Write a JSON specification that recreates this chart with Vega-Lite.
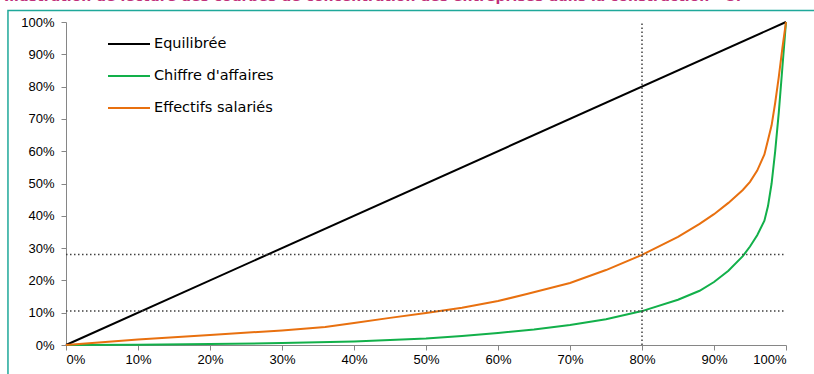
{
  "$schema": "https://vega.github.io/schema/vega-lite/v6.json",
  "width": 720,
  "height": 323,
  "autosize": {"type": "none"},
  "padding": {"left": 66, "top": 22, "right": 28, "bottom": 29},
  "background": "white",
  "title": {
    "text": "Illustration de lecture des courbes de concentration des entreprises dans la construction     –   5.",
    "anchor": "start",
    "frame": "group",
    "font": "DejaVu Sans",
    "fontSize": 14,
    "fontWeight": "bold",
    "color": "#c0307a",
    "dx": -62,
    "dy": -6,
    "offset": 0
  },
  "config": {
    "view": {"stroke": null},
    "font": "Liberation Sans",
    "axis": {
      "grid": false,
      "domainColor": "#868686",
      "tickColor": "#868686",
      "tickSize": 5,
      "labelFont": "Liberation Sans",
      "labelFontSize": 13,
      "labelColor": "#000000",
      "labelPadding": 3,
      "title": null
    },
    "axisY": {"labelPadding": 7}
  },
  "datasets": {
    "curves": [
      {"serie": "Equilibrée", "x": 0, "y": 0},
      {"serie": "Equilibrée", "x": 1, "y": 1},
      {"serie": "Chiffre d'affaires", "x": 0, "y": 0},
      {"serie": "Chiffre d'affaires", "x": 0.1, "y": 0.001},
      {"serie": "Chiffre d'affaires", "x": 0.2, "y": 0.003},
      {"serie": "Chiffre d'affaires", "x": 0.3, "y": 0.006},
      {"serie": "Chiffre d'affaires", "x": 0.4, "y": 0.011},
      {"serie": "Chiffre d'affaires", "x": 0.5, "y": 0.02},
      {"serie": "Chiffre d'affaires", "x": 0.55, "y": 0.028},
      {"serie": "Chiffre d'affaires", "x": 0.6, "y": 0.037},
      {"serie": "Chiffre d'affaires", "x": 0.65, "y": 0.048},
      {"serie": "Chiffre d'affaires", "x": 0.7, "y": 0.062},
      {"serie": "Chiffre d'affaires", "x": 0.75, "y": 0.08},
      {"serie": "Chiffre d'affaires", "x": 0.8, "y": 0.105},
      {"serie": "Chiffre d'affaires", "x": 0.85, "y": 0.14},
      {"serie": "Chiffre d'affaires", "x": 0.88, "y": 0.168},
      {"serie": "Chiffre d'affaires", "x": 0.9, "y": 0.195},
      {"serie": "Chiffre d'affaires", "x": 0.92, "y": 0.23},
      {"serie": "Chiffre d'affaires", "x": 0.94, "y": 0.275},
      {"serie": "Chiffre d'affaires", "x": 0.95, "y": 0.305},
      {"serie": "Chiffre d'affaires", "x": 0.96, "y": 0.34},
      {"serie": "Chiffre d'affaires", "x": 0.97, "y": 0.385},
      {"serie": "Chiffre d'affaires", "x": 0.975, "y": 0.43},
      {"serie": "Chiffre d'affaires", "x": 0.98, "y": 0.5},
      {"serie": "Chiffre d'affaires", "x": 0.985, "y": 0.6},
      {"serie": "Chiffre d'affaires", "x": 0.99, "y": 0.72},
      {"serie": "Chiffre d'affaires", "x": 0.995, "y": 0.86},
      {"serie": "Chiffre d'affaires", "x": 1, "y": 1},
      {"serie": "Effectifs salariés", "x": 0, "y": 0},
      {"serie": "Effectifs salariés", "x": 0.1, "y": 0.017},
      {"serie": "Effectifs salariés", "x": 0.2, "y": 0.031},
      {"serie": "Effectifs salariés", "x": 0.3, "y": 0.045},
      {"serie": "Effectifs salariés", "x": 0.36, "y": 0.056},
      {"serie": "Effectifs salariés", "x": 0.4, "y": 0.068},
      {"serie": "Effectifs salariés", "x": 0.45, "y": 0.084},
      {"serie": "Effectifs salariés", "x": 0.5, "y": 0.099},
      {"serie": "Effectifs salariés", "x": 0.55, "y": 0.115},
      {"serie": "Effectifs salariés", "x": 0.6, "y": 0.136},
      {"serie": "Effectifs salariés", "x": 0.64, "y": 0.158},
      {"serie": "Effectifs salariés", "x": 0.7, "y": 0.192},
      {"serie": "Effectifs salariés", "x": 0.75, "y": 0.232},
      {"serie": "Effectifs salariés", "x": 0.8, "y": 0.279},
      {"serie": "Effectifs salariés", "x": 0.85, "y": 0.335},
      {"serie": "Effectifs salariés", "x": 0.88, "y": 0.375},
      {"serie": "Effectifs salariés", "x": 0.9, "y": 0.405},
      {"serie": "Effectifs salariés", "x": 0.92, "y": 0.44},
      {"serie": "Effectifs salariés", "x": 0.94, "y": 0.48},
      {"serie": "Effectifs salariés", "x": 0.95, "y": 0.505},
      {"serie": "Effectifs salariés", "x": 0.96, "y": 0.54},
      {"serie": "Effectifs salariés", "x": 0.97, "y": 0.59},
      {"serie": "Effectifs salariés", "x": 0.975, "y": 0.635},
      {"serie": "Effectifs salariés", "x": 0.98, "y": 0.68},
      {"serie": "Effectifs salariés", "x": 0.985, "y": 0.75},
      {"serie": "Effectifs salariés", "x": 0.99, "y": 0.83},
      {"serie": "Effectifs salariés", "x": 0.995, "y": 0.92},
      {"serie": "Effectifs salariés", "x": 1, "y": 1}
    ],
    "hrules": [{"y": 0.28}, {"y": 0.105}],
    "vrules": [{"x": 0.8}]
  },
  "layer": [
    {
      "data": {"name": "curves"},
      "mark": {"type": "line", "strokeWidth": 2, "clip": false},
      "encoding": {
        "x": {
          "field": "x", "type": "quantitative",
          "scale": {"domain": [0, 1], "nice": false, "zero": false},
          "axis": {"format": ".0%", "values": [0, 0.1, 0.2, 0.3, 0.4, 0.5, 0.6, 0.7, 0.8, 0.9, 1], "labelOverlap": false, "tickCount": 20}
        },
        "y": {
          "field": "y", "type": "quantitative",
          "scale": {"domain": [0, 1], "nice": false, "zero": false},
          "axis": {"format": ".0%", "values": [0, 0.1, 0.2, 0.3, 0.4, 0.5, 0.6, 0.7, 0.8, 0.9, 1], "labelOverlap": false, "tickCount": 20}
        },
        "color": {
          "field": "serie", "type": "nominal",
          "scale": {
            "domain": ["Equilibrée", "Chiffre d'affaires", "Effectifs salariés"],
            "range": ["#000000", "#12b04a", "#e8700f"]
          },
          "legend": {
            "title": null,
            "orient": "none",
            "legendX": 47,
            "legendY": 6,
            "padding": 0,
            "symbolType": "M-1.4,0H1.4",
            "symbolSize": 900,
            "symbolStrokeWidth": 2,
            "labelFont": "DejaVu Sans",
            "labelFontSize": 14.5,
            "labelColor": "#000000",
            "labelOffset": 9,
            "rowPadding": 9
          }
        },
        "sort": {"field": "x"}
      }
    },
    {
      "data": {"values": [{"x0": -0.0806, "x1": 1.2, "y0": 1.0356, "y1": -0.3}]},
      "mark": {"type": "rect", "fill": null, "stroke": "#1fa89a", "strokeWidth": 1.5, "clip": false},
      "encoding": {
        "x": {"field": "x0", "type": "quantitative"},
        "x2": {"field": "x1"},
        "y": {"field": "y0", "type": "quantitative"},
        "y2": {"field": "y1"}
      }
    },
    {
      "data": {"name": "hrules"},
      "mark": {"type": "rule", "color": "#404040", "strokeWidth": 1.5, "strokeDash": [1.5, 2.5]},
      "encoding": {
        "y": {"field": "y", "type": "quantitative"},
        "x": {"datum": 0, "type": "quantitative"},
        "x2": {"datum": 1}
      }
    },
    {
      "data": {"name": "vrules"},
      "mark": {"type": "rule", "color": "#404040", "strokeWidth": 1.5, "strokeDash": [1.5, 2.5]},
      "encoding": {
        "x": {"field": "x", "type": "quantitative"},
        "y": {"datum": 0, "type": "quantitative"},
        "y2": {"datum": 1}
      }
    }
  ]
}
